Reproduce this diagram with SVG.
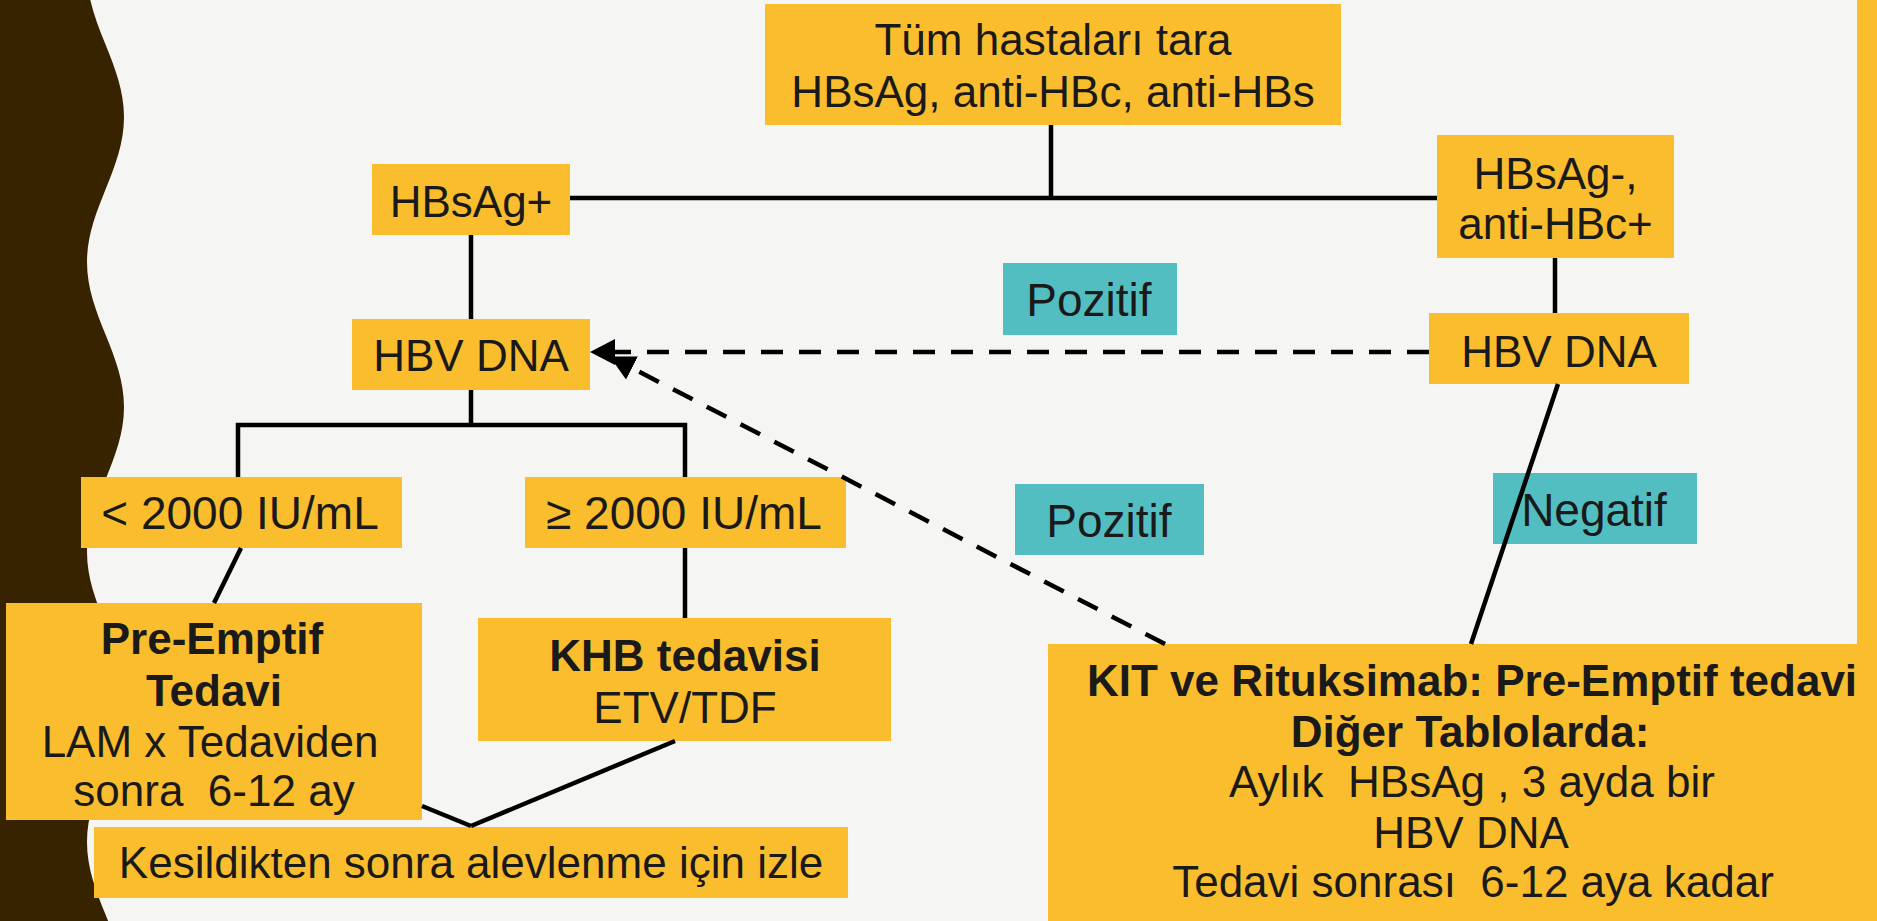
<svg xmlns="http://www.w3.org/2000/svg" width="1877" height="921" viewBox="0 0 1877 921">
<style>
.bg{fill:#f5f5f3}
.box{fill:#fabd2d}
.lbl{fill:#53bec1}
text{font-family:"Liberation Sans",Arial,sans-serif;font-size:44px;fill:#1a1a1a;text-anchor:middle;white-space:pre}
.b{font-weight:bold}
.big{font-size:46px}
.ln{fill:none;stroke:#000;stroke-width:4.5}
.dash{fill:none;stroke:#000;stroke-width:4.5;stroke-dasharray:22 16}
</style>
<defs>
<marker id="arrow" viewBox="0 0 25 26" markerWidth="25" markerHeight="26" refX="0" refY="13" orient="auto" markerUnits="userSpaceOnUse">
<path d="M0,0 L25,13 L0,26 Z" fill="#000"/>
</marker>
</defs>
<rect class="bg" x="0" y="0" width="1877" height="921"/>
<path id="wave" fill="#382300" d="M0,-28 L87,-28 C87,-1.76 96.02,20.86 105.5,44.5 C114.98,68.14 124,90.76 124,117 C124,143.24 114.98,165.86 105.5,189.5 C96.02,213.14 87,235.76 87,262 C87,288.24 96.02,310.86 105.5,334.5 C114.98,358.14 124,380.76 124,407 C124,433.24 114.98,455.86 105.5,479.5 C96.02,503.14 87,525.76 87,552 C87,578.24 96.02,600.86 105.5,624.5 C114.98,648.14 124,670.76 124,697 C124,723.24 114.98,745.86 105.5,769.5 C96.02,793.14 87,815.76 87,842 C87,868.24 96.02,890.86 105.5,914.5 C114.98,938.14 124,960.76 124,987 L0,987 Z"/>
<rect class="box" x="1857" y="0" width="20" height="650"/>

<g id="n-tara">
<rect class="box" x="765" y="4" width="576" height="121"/>
<text x="1053" y="55">Tüm hastaları tara</text>
<text x="1053" y="107">HBsAg, anti-HBc, anti-HBs</text>
</g>
<g id="n-hbsagpos">
<rect class="box" x="372" y="164" width="198" height="71"/>
<text x="471" y="217">HBsAg+</text>
</g>
<g id="n-hbsagneg">
<rect class="box" x="1437" y="135" width="237" height="123"/>
<text x="1555.5" y="189">HBsAg-,</text>
<text x="1555.5" y="239">anti-HBc+</text>
</g>
<g id="n-hbvdna-l">
<rect class="box" x="352" y="319" width="238" height="71"/>
<text x="471" y="371">HBV DNA</text>
</g>
<g id="n-hbvdna-r">
<rect class="box" x="1429" y="313" width="260" height="71"/>
<text x="1559" y="367">HBV DNA</text>
</g>
<g id="l-pozitif1">
<rect class="lbl" x="1003" y="263" width="174" height="72"/>
<text class="big" x="1089" y="316">Pozitif</text>
</g>
<g id="l-pozitif2">
<rect class="lbl" x="1015" y="484" width="189" height="71"/>
<text class="big" x="1109" y="537">Pozitif</text>
</g>
<g id="l-negatif">
<rect class="lbl" x="1493" y="473" width="204" height="71"/>
<text class="big" x="1594" y="526">Negatif</text>
</g>
<g id="n-lt2000">
<rect class="box" x="81" y="477" width="321" height="71"/>
<text class="big" x="240" y="529">&lt; 2000 IU/mL</text>
</g>
<g id="n-ge2000">
<rect class="box" x="525" y="477" width="321" height="71"/>
<text class="big" x="684" y="529">≥ 2000 IU/mL</text>
</g>
<g id="n-preemptif">
<rect class="box" x="6" y="603" width="416" height="217"/>
<text class="b" x="212" y="654">Pre-Emptif</text>
<text class="b" x="214" y="706">Tedavi</text>
<text x="210" y="757">LAM x Tedaviden</text>
<text x="214" y="806">sonra  6-12 ay</text>
</g>
<g id="n-khb">
<rect class="box" x="478" y="618" width="413" height="123"/>
<text class="b" x="685" y="671">KHB tedavisi</text>
<text x="685" y="723">ETV/TDF</text>
</g>
<g id="n-kesil">
<rect class="box" x="94" y="827" width="754" height="71"/>
<text x="471" y="878">Kesildikten sonra alevlenme için izle</text>
</g>
<g id="n-kit">
<rect class="box" x="1048" y="644" width="829" height="277"/>
<text class="b" x="1472" y="696">KIT ve Rituksimab: Pre-Emptif tedavi</text>
<text class="b" x="1470" y="747">Diğer Tablolarda:</text>
<text x="1472" y="797">Aylık  HBsAg , 3 ayda bir</text>
<text x="1471" y="848">HBV DNA</text>
<text x="1473" y="897">Tedavi sonrası  6-12 aya kadar</text>
</g>

<g id="connectors">
<path class="ln" d="M1051,125 V198"/>
<path class="ln" d="M570,198 H1437"/>
<path class="ln" d="M471,235 V319"/>
<path class="ln" d="M1555,258 V313"/>
<path class="ln" d="M471,390 V425"/>
<path class="ln" d="M238,477 V425 H685 V477"/>
<path class="ln" d="M241,548 L214,603"/>
<path class="ln" d="M685,548 V618"/>
<path class="ln" d="M675,741 L471,826"/>
<path class="ln" d="M422,806 L471,826"/>
<path class="ln" d="M1558,384 L1471,644"/>
<path class="dash" d="M1429,352 H615" marker-end="url(#arrow)"/>
<path class="dash" d="M1165,644 L632,368" marker-end="url(#arrow)"/>
</g>
</svg>
